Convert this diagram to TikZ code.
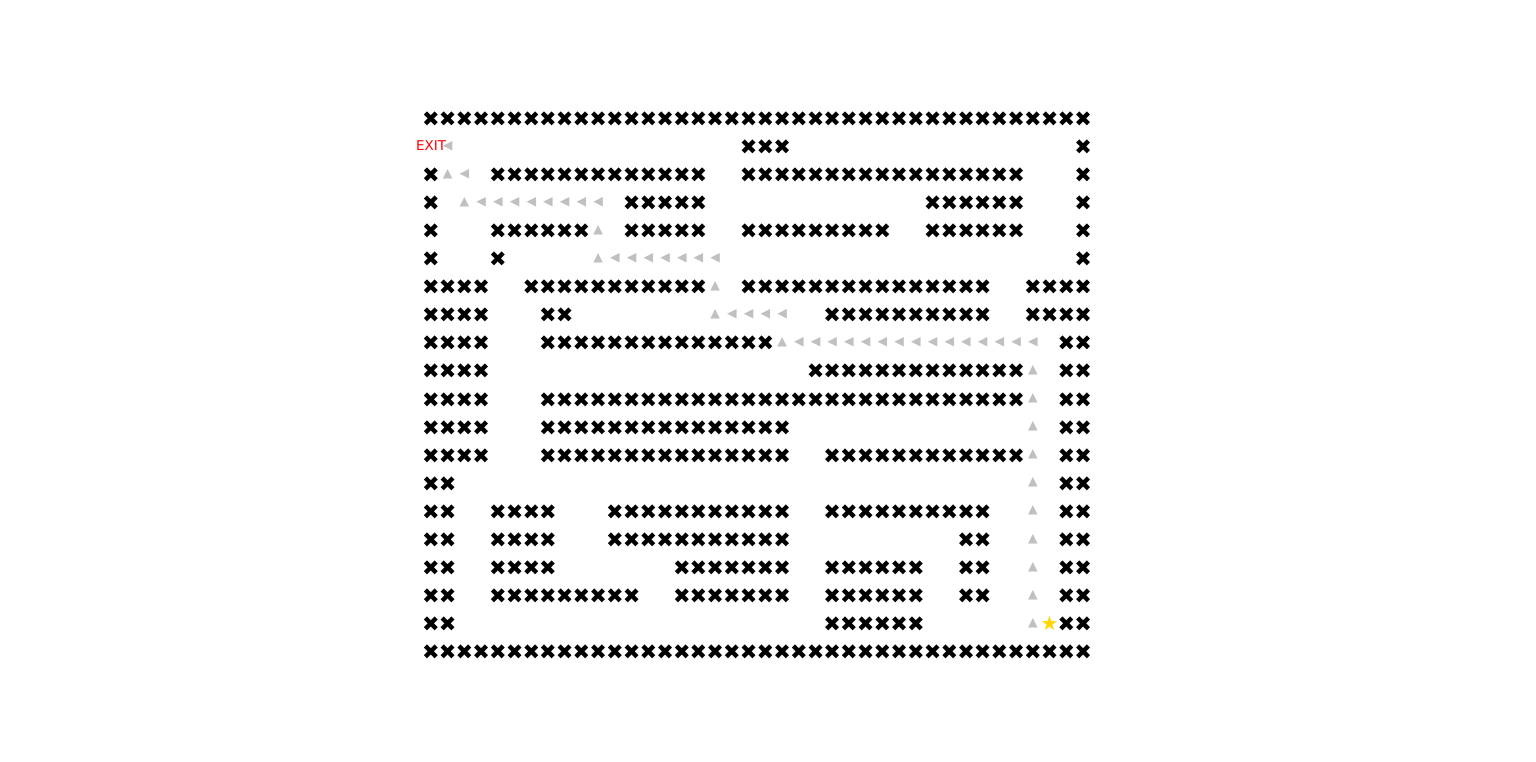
\documentclass[tikz,border=0pt]{standalone}
\usepackage{fontspec}
\setmainfont{DejaVu Sans}
\definecolor{pathgray}{HTML}{C0C0C0}
\definecolor{stargold}{HTML}{FFD700}
\definecolor{exitred}{HTML}{FF0000}
\tikzset{
  wall/.style={inner sep=0pt, outer sep=0pt, text=black, font=\fontsize{21}{21}\selectfont, yshift=-1.2pt},
  uparrow/.style={inner sep=0pt, outer sep=0pt, text=pathgray, font=\fontsize{12.5}{12.5}\selectfont},
  leftarrow/.style={inner sep=0pt, outer sep=0pt, text=pathgray, font=\fontsize{12.5}{12.5}\selectfont},
  goal/.style={inner sep=0pt, outer sep=0pt, text=stargold, font=\fontsize{20}{20}\selectfont},
  exitlabel/.style={inner sep=0pt, outer sep=0pt, text=exitred, font=\fontsize{13.5}{13.5}\selectfont}
}
\newcommand{\cx}[1]{431+16.72*#1}
\newcommand{\ry}[1]{118+28.05*#1}
\begin{document}
\begin{tikzpicture}[x=1pt,y=-1pt]
\useasboundingbox[fill=white] (0,0) rectangle (1536,761);
% walls
\foreach \r/\a/\b in {0/0/39,
  1/19/21, 1/39/39,
  2/0/0, 2/4/16, 2/19/35, 2/39/39,
  3/0/0, 3/12/16, 3/30/35, 3/39/39,
  4/0/0, 4/4/9, 4/12/16, 4/19/27, 4/30/35, 4/39/39,
  5/0/0, 5/4/4, 5/39/39,
  6/0/3, 6/6/16, 6/19/33, 6/36/39,
  7/0/3, 7/7/8, 7/24/33, 7/36/39,
  8/0/3, 8/7/20, 8/38/39,
  9/0/3, 9/23/35, 9/38/39,
  10/0/3, 10/7/35, 10/38/39,
  11/0/3, 11/7/21, 11/38/39,
  12/0/3, 12/7/21, 12/24/35, 12/38/39,
  13/0/1, 13/38/39,
  14/0/1, 14/4/7, 14/11/21, 14/24/33, 14/38/39,
  15/0/1, 15/4/7, 15/11/21, 15/32/33, 15/38/39,
  16/0/1, 16/4/7, 16/15/21, 16/24/29, 16/32/33, 16/38/39,
  17/0/1, 17/4/12, 17/15/21, 17/24/29, 17/32/33, 17/38/39,
  18/0/1, 18/24/29, 18/38/39,
  19/0/39}{
  \foreach \c in {\a,...,\b}{
    \node[wall] (w-\r-\c) at ({\cx{\c}},{\ry{\r}}) {✖};
  }
}
% path: up arrows
\foreach \r/\c in {2/1, 3/2, 4/10, 5/10, 6/17, 7/17, 8/21,
  9/36, 10/36, 11/36, 12/36, 13/36, 14/36, 15/36, 16/36, 17/36, 18/36}{
  \node[uparrow] (u-\r-\c) at ({\cx{\c}},{\ry{\r}}) {▲};
}
% path: left arrows
\foreach \r/\a/\b in {1/1/1, 2/2/2, 3/3/10, 5/11/17, 7/18/21, 8/22/36}{
  \foreach \c in {\a,...,\b}{
    \node[leftarrow] (l-\r-\c) at ({\cx{\c}},{\ry{\r}}) {◀};
  }
}
% start and exit
\node[goal] (star) at ({\cx{37}},{\ry{18}}) {★};
\node[exitlabel] (exit) at ({\cx{0}},{\ry{1}}) {EXIT};
\end{tikzpicture}
\end{document}
